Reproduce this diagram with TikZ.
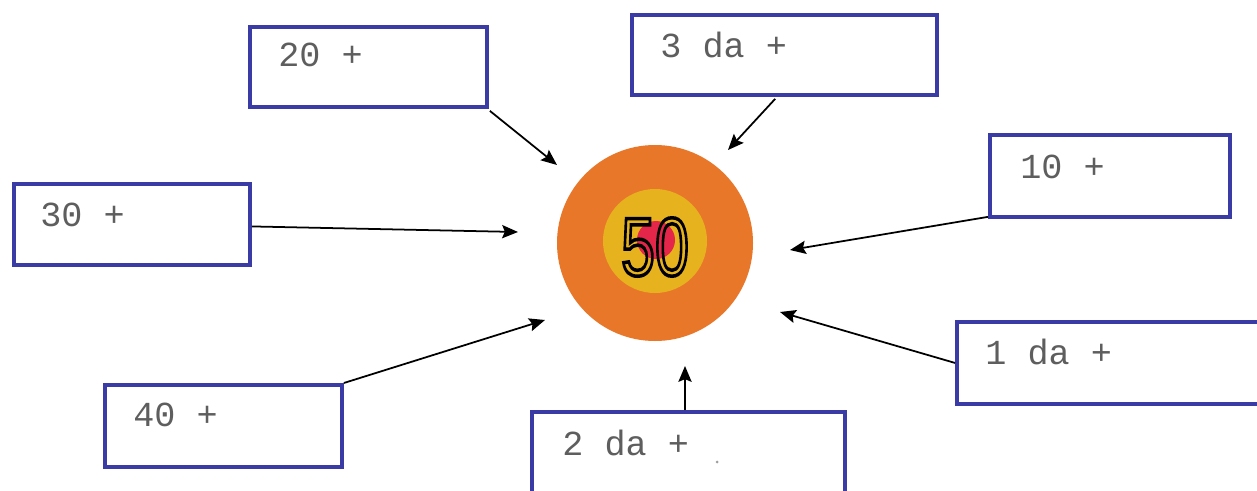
\documentclass[tikz,border=0pt]{standalone}
\usepackage{fontspec}
\setmainfont{Liberation Sans}
\newfontfamily\monofont{Liberation Mono}
\usetikzlibrary{arrows.meta,calc}
\definecolor{boxblue}{HTML}{3B3BA6}
\definecolor{txtgray}{HTML}{5E5E5E}
\definecolor{ringorange}{HTML}{E8772A}
\definecolor{ringyellow}{HTML}{E6B21E}
\definecolor{ringred}{HTML}{E3264A}
\begin{document}
\begin{tikzpicture}[x=0.02cm,y=-0.02cm,
  answerbox/.style={draw=boxblue,line width=2.2pt,fill=white,rectangle,inner sep=0pt,anchor=north west},
  boxtext/.style={anchor=west,inner sep=0pt,text=txtgray,font=\monofont\fontsize{20}{24}\selectfont},
  pointer/.style={-{Stealth[length=9pt,width=7.5pt,inset=1.5pt]},line width=1pt,black}]
\useasboundingbox (0,0) rectangle (1257,490);
\fill[white] (0,0) rectangle (1257,490);
% target
\node[circle,fill=ringorange,minimum size=196*0.02cm,inner sep=0pt] (target) at (655,243) {};
\node[circle,fill=ringyellow,minimum size=104*0.02cm,inner sep=0pt] (inner) at (655,241) {};
\node[circle,fill=ringred,minimum size=38*0.02cm,inner sep=0pt] (bull) at (656,240) {};
\node[inner sep=0pt,xscale=0.74,font=\fontsize{47}{50}\selectfont] (fifty) at (655,247)
  {\special{pdf:literal direct 1 Tr 2 w}50\special{pdf:literal direct 0 Tr}};
% boxes
\node[answerbox,minimum width=237*0.02cm,minimum height=80*0.02cm] (b20) at (248,25) {};
\node[answerbox,minimum width=305*0.02cm,minimum height=80*0.02cm] (b3da) at (630,13) {};
\node[answerbox,minimum width=240*0.02cm,minimum height=82*0.02cm] (b10) at (988,133) {};
\node[answerbox,minimum width=236*0.02cm,minimum height=81*0.02cm] (b30) at (12,182) {};
\node[answerbox,minimum width=330*0.02cm,minimum height=82*0.02cm] (b1da) at (955,320) {};
\node[answerbox,minimum width=237*0.02cm,minimum height=82*0.02cm] (b40) at (103,383) {};
\node[answerbox,minimum width=313*0.02cm,minimum height=82*0.02cm] (b2da) at (530,410) {};
% texts
\node[boxtext] (t20) at ($(b20.north west)+(30,30)$) {20 +};
\node[boxtext] (t3da) at ($(b3da.north west)+(30,32)$) {3 da +};
\node[boxtext] (t10) at ($(b10.north west)+(32,34)$) {10 +};
\node[boxtext] (t30) at ($(b30.north west)+(28,33)$) {30 +};
\node[boxtext] (t1da) at ($(b1da.north west)+(30,32)$) {1 da +};
\node[boxtext] (t40) at ($(b40.north west)+(30,32)$) {40 +};
\node[boxtext] (t2da) at ($(b2da.north west)+(32,33)$) {2 da +};
\fill[txtgray!60] (717,462) circle (1.5);
% arrow end points
\coordinate (e20) at (557,165);
\coordinate (e3da) at (728,150);
\coordinate (e10) at (790,250);
\coordinate (e30) at (518,232);
\coordinate (e1da) at (780,312);
\coordinate (e40) at (545,320);
\coordinate (e2da) at (685,366);
% arrows
\draw[pointer] ($(b20.south east)+(1,2)$) -- (e20);
\draw[pointer] ($(b3da.south west)!0.47!(b3da.south east)+(0,2)$) -- (e3da);
\draw[pointer] ($(b10.south west)+(0,-2)$) -- (e10);
\draw[pointer] ($(b30.east)+(0,2)$) -- (e30);
\draw[pointer] (b1da.west) -- (e1da);
\draw[pointer] (b40.north east) -- (e40);
\draw[pointer] (b2da.north -| e2da) -- (e2da);
\end{tikzpicture}
\end{document}
